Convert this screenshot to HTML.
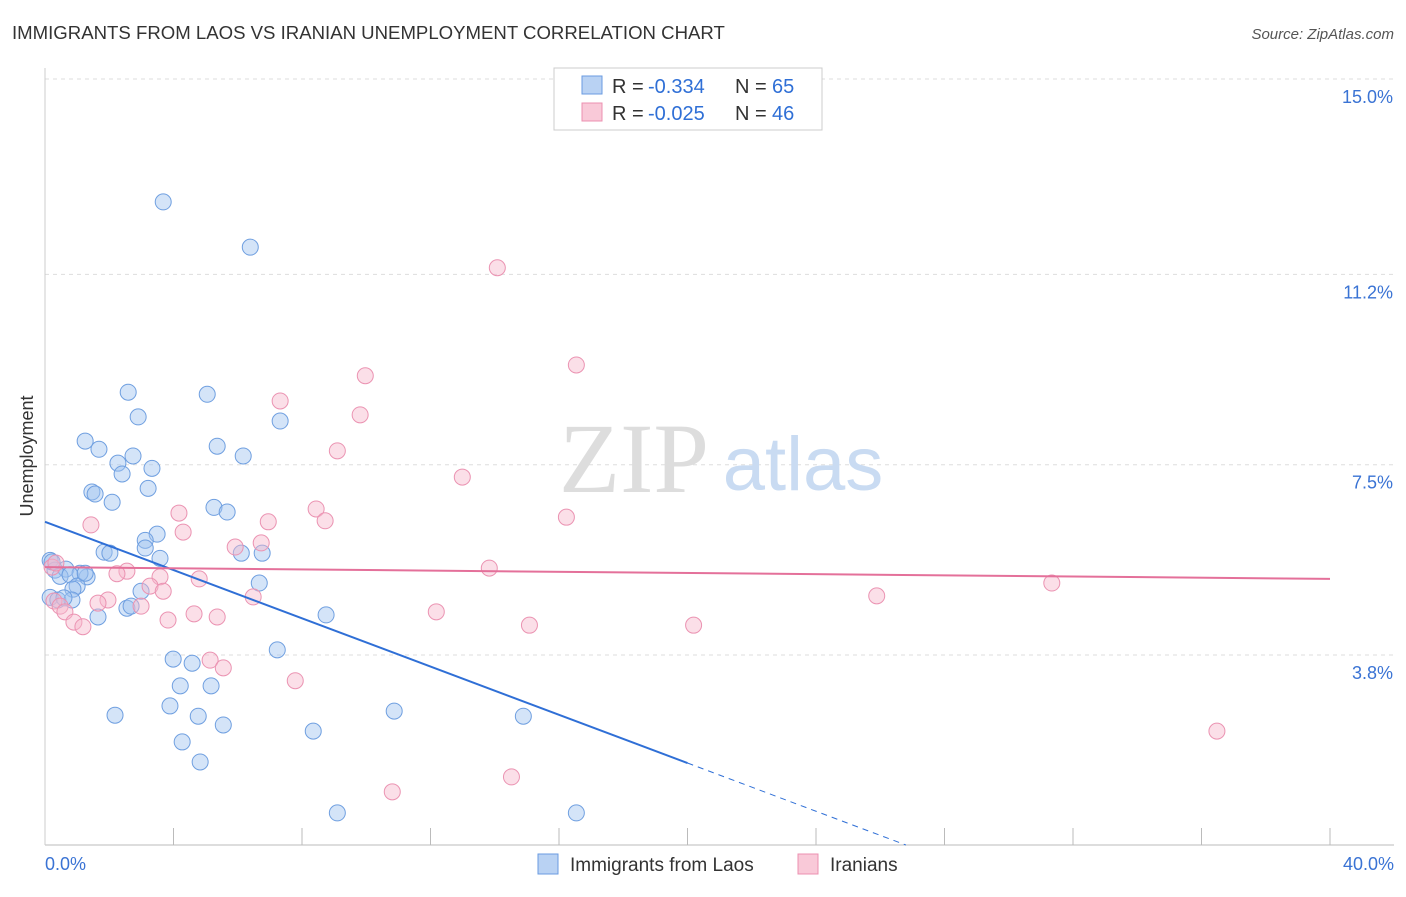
<!DOCTYPE html>
<html><head><meta charset="utf-8"><style>
body{margin:0;background:#fff;font-family:"Liberation Sans",sans-serif;}
svg text{font-family:"Liberation Sans",sans-serif;}
</style></head><body>
<svg id="chart" width="1406" height="892">
<text x="12" y="39" font-size="18.6" fill="#333">IMMIGRANTS FROM LAOS VS IRANIAN UNEMPLOYMENT CORRELATION CHART</text>
<text x="1394" y="39" font-size="15" fill="#555" text-anchor="end" font-style="italic">Source: ZipAtlas.com</text>
<g id="grid"></g>
<text x="634" y="492" font-size="100" fill="#ddd" font-family="Liberation Serif" text-anchor="middle" style="font-family:'Liberation Serif',serif">ZIP</text>
<text x="803" y="490" font-size="76" fill="#c9dbf2" text-anchor="middle">atlas</text>
<g id="marks"></g>
<text x="33" y="456" font-size="18" fill="#333" text-anchor="middle" transform="rotate(-90 33 456)">Unemployment</text>
<g>
<rect x="554" y="68" width="268" height="62" fill="#fff" stroke="#ccc"/>
<rect x="582" y="76" width="20" height="18" fill="#b9d2f3" stroke="#6a9be0"/>
<rect x="582" y="103" width="20" height="18" fill="#f9c9d8" stroke="#ec90b0"/>
<text x="612" y="93" font-size="20" fill="#333">R =</text>
<text x="648" y="93" font-size="20" fill="#2f6fd6">-0.334</text>
<text x="735" y="93" font-size="20" fill="#333">N =</text>
<text x="772" y="93" font-size="20" fill="#2f6fd6">65</text>
<text x="612" y="120" font-size="20" fill="#333">R =</text>
<text x="648" y="120" font-size="20" fill="#2f6fd6">-0.025</text>
<text x="735" y="120" font-size="20" fill="#333">N =</text>
<text x="772" y="120" font-size="20" fill="#2f6fd6">46</text>
</g>
<g>
<rect x="538" y="854" width="20" height="20" fill="#b9d2f3" stroke="#6a9be0"/>
<text x="570" y="871" font-size="19" fill="#333">Immigrants from Laos</text>
<rect x="798" y="854" width="20" height="20" fill="#f9c9d8" stroke="#ec90b0"/>
<text x="830" y="871" font-size="19" fill="#333">Iranians</text>
</g>
</svg>
<script>
const xTicks=[4,8,12,16,20,24,28,32,36,40];
const yTicks=[3.8,7.5,11.2,15.0];
const yTickLabels=["3.8%","7.5%","11.2%","15.0%"];
const xEndLabels=["0.0%","40.0%"];
const laosX=[3.68,6.39,2.59,5.05,2.90,7.32,1.25,1.68,5.36,6.17,2.74,2.27,3.33,2.40,1.46,1.56,3.21,2.09,5.26,5.67,3.49,3.12,3.12,1.84,2.02,3.58,6.11,6.76,0.16,0.31,0.65,0.47,1.31,1.09,0.78,1.00,0.87,6.67,2.99,0.16,0.40,0.84,0.59,2.55,2.68,1.65,8.75,7.23,3.99,4.58,4.21,5.17,3.89,2.18,4.77,10.87,14.89,5.55,8.35,4.27,4.83,9.10,16.54,0.22,1.25];
const laosY=[12.61,11.73,8.91,8.87,8.43,8.35,7.96,7.80,7.86,7.67,7.67,7.53,7.43,7.32,6.97,6.93,7.04,6.77,6.67,6.58,6.15,6.03,5.88,5.80,5.78,5.68,5.78,5.78,5.64,5.45,5.47,5.33,5.32,5.39,5.36,5.14,5.08,5.20,5.04,4.92,4.87,4.87,4.91,4.71,4.75,4.54,4.58,3.90,3.72,3.64,3.20,3.20,2.81,2.63,2.61,2.71,2.61,2.44,2.32,2.11,1.72,0.73,0.73,5.61,5.39];
const iranX=[14.08,16.54,9.97,7.32,9.81,9.10,12.99,16.23,8.44,4.17,1.43,8.72,6.95,4.30,5.92,6.73,0.22,0.34,2.55,2.24,4.80,3.58,13.83,31.34,3.27,6.48,25.89,1.96,1.65,2.99,3.68,0.28,0.47,0.62,12.18,4.64,5.36,3.83,0.90,1.18,15.08,20.19,5.14,5.55,7.79,36.48,14.52,10.81];
const iranY=[11.33,9.44,9.23,8.74,8.47,7.77,7.26,6.48,6.64,6.56,6.33,6.41,6.39,6.19,5.90,5.98,5.51,5.59,5.43,5.38,5.28,5.32,5.49,5.20,5.14,4.93,4.95,4.87,4.81,4.75,5.04,4.85,4.75,4.64,4.64,4.60,4.54,4.48,4.44,4.35,4.38,4.38,3.70,3.55,3.30,2.32,1.43,1.14];
const laosTrend=[6.39,-0.2345];
const iranTrend=[5.51,-0.00575];
const laosSolidEnd=20, laosDashEnd=26.8;

const X=v=>45+v*32.125;
const Y=v=>79+(15-v)*51.43;
const NS="http://www.w3.org/2000/svg";
const grid=document.getElementById('grid');
const marks=document.getElementById('marks');
function mk(tag,attrs,parent){const e=document.createElementNS(NS,tag);for(const k in attrs)e.setAttribute(k,attrs[k]);parent.appendChild(e);return e;}

yTicks.forEach((t,i)=>{
 const l=mk('line',{x1:45,x2:1394,y1:Y(t),y2:Y(t),stroke:'#ddd','stroke-dasharray':'4,4'},grid);
 
 
 const tx=mk('text',{x:1393,y:Y(t)+24,'font-size':18,fill:'#3a73d4','text-anchor':'end'},grid);
 tx.textContent=yTickLabels[i];
 
 
});
const ax=mk('line',{x1:45,x2:1394,y1:845,y2:845,stroke:'#bbb'},grid);


const ay=mk('line',{x1:45,x2:45,y1:68,y2:845,stroke:'#ccc'},grid);


xTicks.forEach(t=>{
 const l=mk('line',{x1:X(t),x2:X(t),y1:828,y2:845,stroke:'#bbb'},grid);
 
 
});
[[0,'start',45],[40,'end',1394]].forEach((a,i)=>{
 const tx=mk('text',{x:a[2],y:870,'font-size':18,fill:'#3a73d4','text-anchor':a[1]},grid);
 tx.textContent=xEndLabels[i];
 
 
});

laosX.forEach((x,i)=>{
 const c=mk('circle',{cx:X(x),cy:Y(laosY[i]),r:8,fill:'rgba(160,195,240,0.45)',stroke:'#6f9fe0','stroke-width':1},marks);
 
 
});
iranX.forEach((x,i)=>{
 const c=mk('circle',{cx:X(x),cy:Y(iranY[i]),r:8,fill:'rgba(247,185,205,0.45)',stroke:'#eb93b2','stroke-width':1},marks);
 
 
});
const f=(t,x)=>t[0]+t[1]*x;
const l1=mk('line',{x1:X(0),y1:Y(f(laosTrend,0)),x2:X(laosSolidEnd),y2:Y(f(laosTrend,laosSolidEnd)),stroke:'#2f6fd6','stroke-width':2},marks);


const l2=mk('line',{x1:X(laosSolidEnd),y1:Y(f(laosTrend,laosSolidEnd)),x2:X(laosDashEnd),y2:Y(f(laosTrend,laosDashEnd)),stroke:'#2f6fd6','stroke-width':1,'stroke-dasharray':'6,5'},marks);


const l3=mk('line',{x1:X(0),y1:Y(f(iranTrend,0)),x2:X(40),y2:Y(f(iranTrend,40)),stroke:'#e4709a','stroke-width':2},marks);


</script>
</body></html>
